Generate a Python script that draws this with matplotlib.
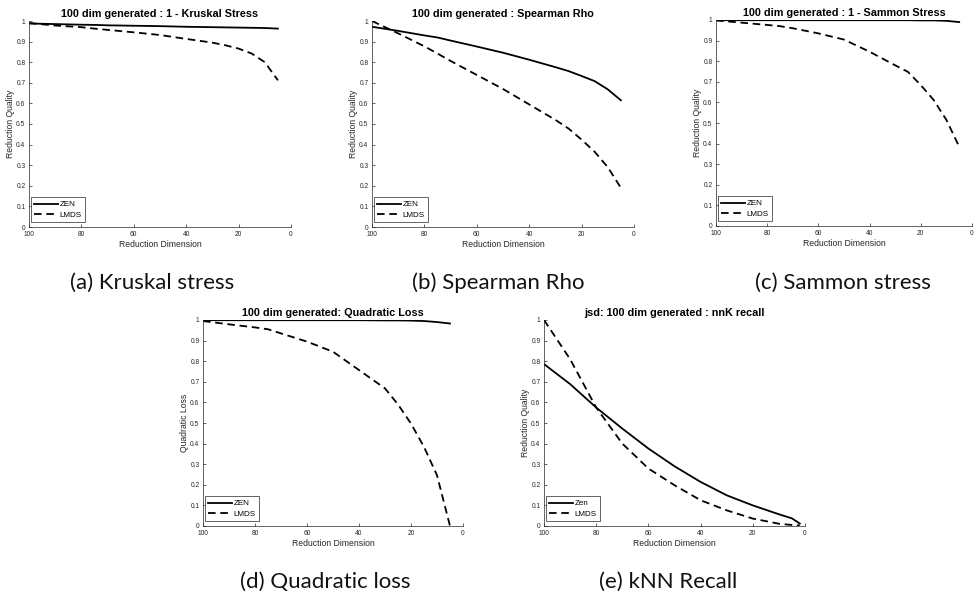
import matplotlib
matplotlib.use("Agg")
import matplotlib.pyplot as plt
from matplotlib.ticker import FixedLocator, FixedFormatter

plt.rcParams['font.family'] = ['Liberation Sans', 'DejaVu Sans']

# ---------------- data ----------------
dims = [100, 90, 80, 75, 70, 60, 50, 40, 30, 25, 20, 15, 10, 5]

kruskal_zen = [0.988, 0.985, 0.982, 0.981, 0.979, 0.977, 0.975, 0.972, 0.970, 0.969, 0.968, 0.967, 0.966, 0.963]
kruskal_lmds = [0.990, 0.978, 0.970, 0.963, 0.957, 0.945, 0.932, 0.913, 0.895, 0.882, 0.866, 0.842, 0.800, 0.712]

spearman_zen = [0.972, 0.952, 0.930, 0.920, 0.905, 0.876, 0.846, 0.812, 0.776, 0.757, 0.733, 0.708, 0.668, 0.615]
spearman_lmds = [1.000, 0.940, 0.877, 0.842, 0.806, 0.738, 0.670, 0.595, 0.520, 0.478, 0.424, 0.365, 0.290, 0.190]

sammon_zen = [0.999, 0.999, 0.999, 0.999, 0.999, 0.999, 0.999, 0.999, 0.999, 0.999, 0.998, 0.998, 0.996, 0.990]
sammon_lmds = [0.998, 0.987, 0.976, 0.970, 0.960, 0.935, 0.905, 0.846, 0.780, 0.748, 0.684, 0.612, 0.515, 0.385]

quad_zen = [0.999, 0.999, 0.999, 0.999, 0.999, 0.999, 0.999, 0.999, 0.998, 0.998, 0.997, 0.995, 0.990, 0.983]
quad_lmds = [0.995, 0.979, 0.964, 0.955, 0.935, 0.895, 0.846, 0.757, 0.668, 0.590, 0.497, 0.384, 0.246, 0.000]

knn_dims = [100, 90, 80, 70, 60, 50, 40, 30, 20, 10, 5, 2]
knn_zen = [0.786, 0.689, 0.575, 0.473, 0.376, 0.290, 0.214, 0.149, 0.100, 0.057, 0.037, 0.012]
knn_lmds = [1.000, 0.810, 0.575, 0.400, 0.279, 0.198, 0.125, 0.076, 0.036, 0.011, 0.005, 0.003]

x_ticks = [100, 80, 60, 40, 20, 0]
x_tick_labels = ["100", "80", "60", "40", "20", "0"]
y_ticks = [0, 0.1, 0.2, 0.3, 0.4, 0.5, 0.6, 0.7, 0.8, 0.9, 1.0]
y_tick_labels = ["0", "0.1", "0.2", "0.3", "0.4", "0.5", "0.6", "0.7", "0.8", "0.9", "1"]

panels = [
    dict(x=dims, zen=kruskal_zen, lmds=kruskal_lmds, title="100 dim generated : 1 - Kruskal Stress",
         ylabel="Reduction Quality", zen_label="ZEN", caption="(a) Kruskal stress",
         rect=[29, 21, 262, 206], cap=(152, 283)),
    dict(x=dims, zen=spearman_zen, lmds=spearman_lmds, title="100 dim generated : Spearman Rho",
         ylabel="Reduction Quality", zen_label="ZEN", caption="(b) Spearman Rho",
         rect=[372, 21, 262, 206], cap=(498, 283)),
    dict(x=dims, zen=sammon_zen, lmds=sammon_lmds, title="100 dim generated : 1 - Sammon Stress",
         ylabel="Reduction Quality", zen_label="ZEN", caption="(c) Sammon stress",
         rect=[716, 20, 256, 206], cap=(843, 283)),
    dict(x=dims, zen=quad_zen, lmds=quad_lmds, title="100 dim generated: Quadratic Loss",
         ylabel="Quadratic Loss", zen_label="ZEN", caption="(d) Quadratic loss",
         rect=[203, 320, 260, 206], cap=(325, 582)),
    dict(x=knn_dims, zen=knn_zen, lmds=knn_lmds, title="jsd: 100 dim generated : nnK recall",
         ylabel="Reduction Quality", zen_label="Zen", caption="(e) kNN Recall",
         rect=[544, 320, 261, 206], cap=(668, 582)),
]

W, H = 976, 599
fig = plt.figure(figsize=(W / 100, H / 100), dpi=100)
axis_color = "#262626"

for p in panels:
    l, t, w, h = p["rect"]
    ax = fig.add_axes([l / W, 1 - (t + h) / H, w / W, h / H])
    ax.plot(p["x"], p["zen"], color="black", lw=1.3, label=p["zen_label"])
    ax.plot(p["x"], p["lmds"], color="black", lw=1.3, linestyle=(0, (4.2, 2.6)), label="LMDS")
    ax.set_xlim(100, 0)
    ax.set_ylim(0, 1)
    ax.xaxis.set_major_locator(FixedLocator(x_ticks))
    ax.xaxis.set_major_formatter(FixedFormatter(x_tick_labels))
    ax.yaxis.set_major_locator(FixedLocator(y_ticks))
    ax.yaxis.set_major_formatter(FixedFormatter(y_tick_labels))
    for s in ["top", "right"]:
        ax.spines[s].set_visible(False)
    for s in ["left", "bottom"]:
        ax.spines[s].set_color(axis_color)
        ax.spines[s].set_linewidth(0.5)
    ax.tick_params(direction="in", length=2, width=0.5, colors=axis_color,
                   labelsize=4.8)
    ax.tick_params(axis="x", pad=2.6)
    ax.tick_params(axis="y", pad=2.6)
    ax.set_title(p["title"], fontsize=7.8, fontweight="bold", pad=3)
    ax.set_xlabel("Reduction Dimension", fontsize=6.2, color=axis_color, labelpad=1.5)
    ax.set_ylabel(p["ylabel"], fontsize=6.2, color=axis_color, labelpad=1.0)
    leg = ax.legend(loc="lower left", bbox_to_anchor=(2 / w, 5 / h), borderaxespad=0,
                    fontsize=5.8, fancybox=False, framealpha=1, edgecolor=axis_color,
                    handlelength=3.0, handletextpad=0.15, borderpad=0.4, labelspacing=0.35)
    leg.get_frame().set_linewidth(0.5)
    cx, cy = p["cap"]
    fig.text(cx / W, 1 - cy / H, p["caption"], ha="center", va="center",
             fontsize=16, family=["Lato", "DejaVu Sans"], color="#111111")

fig.savefig("out.png", dpi=100)
